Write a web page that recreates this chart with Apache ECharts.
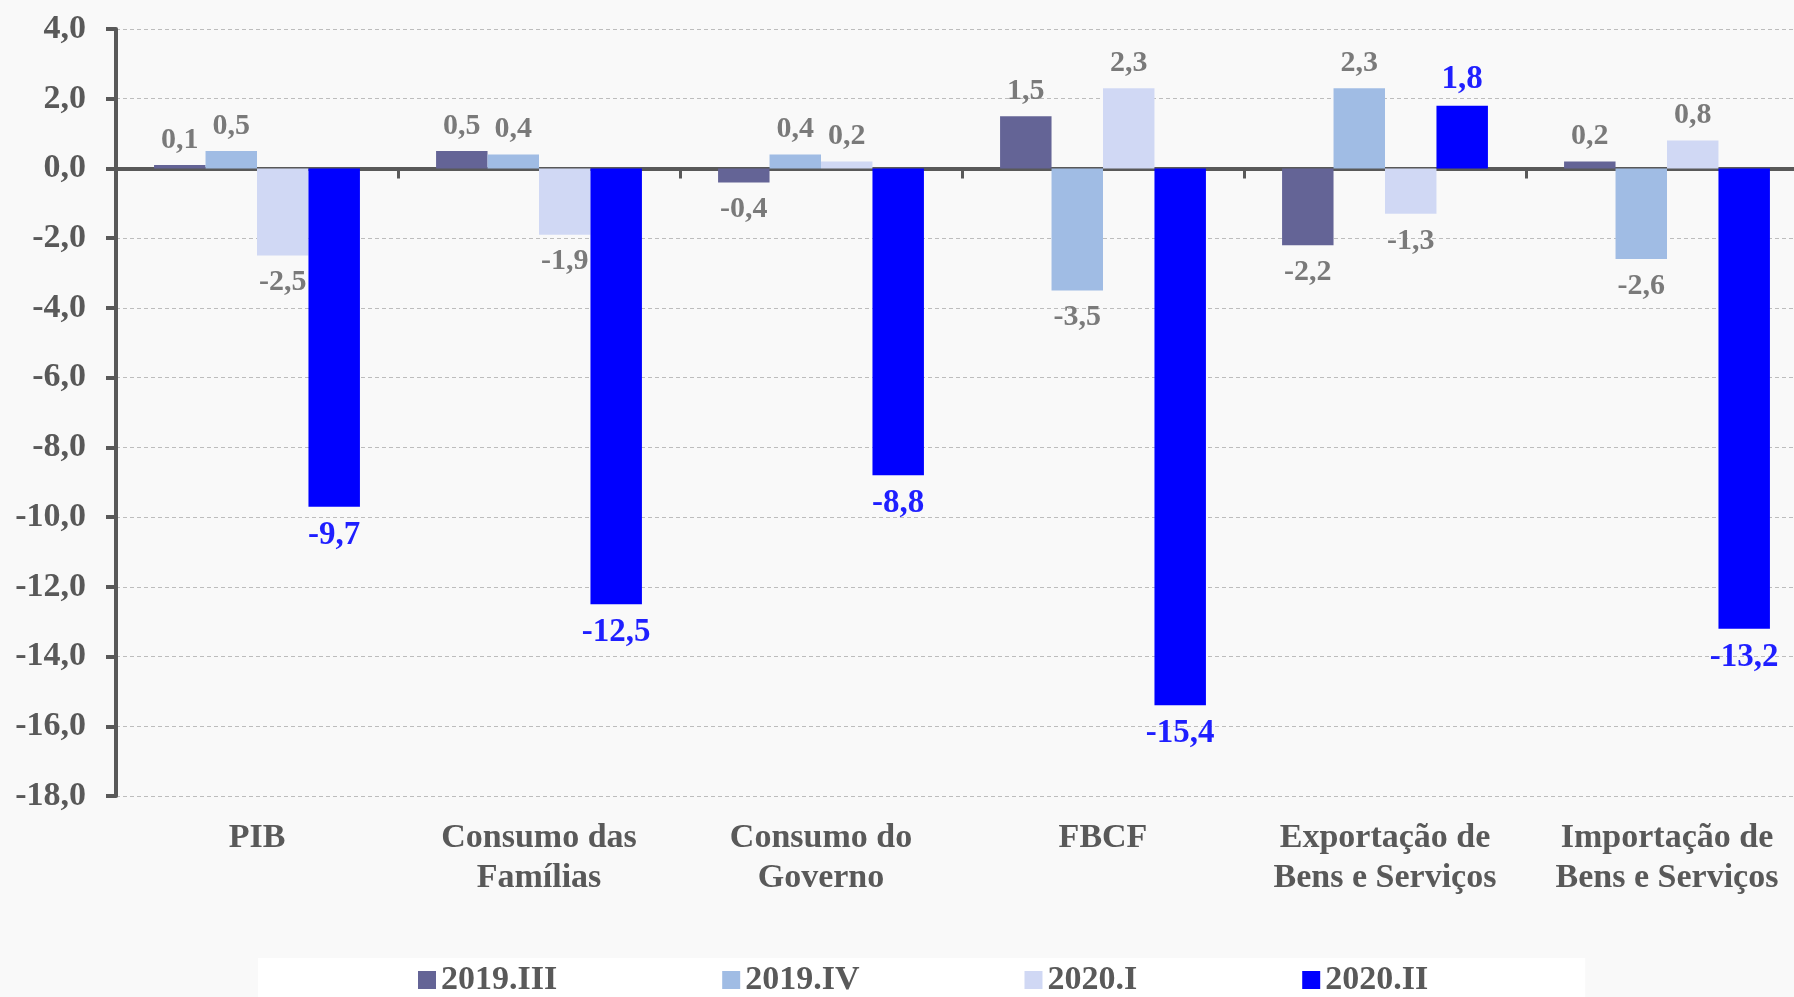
<!DOCTYPE html>
<html>
<head>
<meta charset="utf-8">
<script src="https://cdn.jsdelivr.net/npm/echarts@6/dist/echarts.min.js"></script>
<style>
  html, body { margin: 0; padding: 0; background: #f9f9f9; overflow: hidden; }
  /* o gráfico original é cortado à direita: o canvas passa um pouco da janela */
  #chart { width: 1808px; height: 997px; }
</style>
</head>
<body>
<div id="chart"></div>
<script>
// categorias e séries (variação % sobre o trimestre anterior)
const categories = ['PIB', 'Consumo das\nFamílias', 'Consumo do\nGoverno', 'FBCF',
  'Exportação de\nBens e Serviços', 'Importação de\nBens e Serviços'];
const seriesNames = ['2019.III', '2019.IV', '2020.I', '2020.II'];
const v2019III = [0.1, 0.5, -0.4, 1.5, -2.2, 0.2];
const v2019IV = [0.5, 0.4, 0.4, -3.5, 2.3, -2.6];
const v2020I = [-2.5, -1.9, 0.2, 2.3, -1.3, 0.8];
const v2020II = [-9.7, -12.5, -8.8, -15.4, 1.8, -13.2];
const yTicks = { min: -18, max: 4, interval: 2 };

const FONT = "'Liberation Serif', 'Times New Roman', serif";
const AXIS_GRAY = '#595959';
const colors = ['#646496', '#a0bce4', '#d0d8f4', '#0000ff'];
const labelColors = ['#7a7a7a', '#7a7a7a', '#7a7a7a', '#1f1fff'];
const labelSizes = [30, 30, 30, 33];

const fmt = v => v.toFixed(1).replace('.', ',');

function makeSeries(name, values, idx) {
  return {
    name: name,
    type: 'bar',
    xAxisIndex: 0,
    barGap: '0%',
    barCategoryGap: '27%',
    itemStyle: { color: colors[idx] },
    data: values.map(v => ({
      value: v,
      label: {
        position: v >= 0 ? 'top' : 'bottom',
        distance: v >= 0 ? 10 : 12
      }
    })),
    label: {
      show: true,
      formatter: p => fmt(p.value),
      fontFamily: FONT,
      fontWeight: 'bold',
      fontSize: labelSizes[idx],
      color: labelColors[idx]
    }
  };
}

const chart = echarts.init(document.getElementById('chart'), null, { renderer: 'canvas' });

chart.setOption({
  backgroundColor: '#f9f9f9',
  animation: false,
  grid: { left: 116, right: 0, top: 29, bottom: 201, containLabel: false },
  legend: {
    data: seriesNames,
    left: 258,
    top: 958,
    icon: 'rect',
    itemWidth: 18,
    itemHeight: 18,
    itemGap: 165,
    selectedMode: false,
    backgroundColor: '#ffffff',
    padding: [5, 157, 20, 160],
    textStyle: { fontFamily: FONT, fontWeight: 'bold', fontSize: 34, color: AXIS_GRAY }
  },
  xAxis: [
    {
      type: 'category',
      data: categories,
      position: 'bottom',
      axisLine: { show: false, onZero: false },
      axisTick: { show: false },
      axisLabel: {
        interval: 0,
        margin: 22,
        fontFamily: FONT,
        fontWeight: 'bold',
        fontSize: 34,
        lineHeight: 40,
        color: AXIS_GRAY
      }
    },
    {
      // linha do zero com marcas entre as categorias
      type: 'category',
      data: categories,
      position: 'top',
      axisLine: { show: true, onZero: true, lineStyle: { color: AXIS_GRAY, width: 4 } },
      axisTick: { show: true, inside: true, length: 10, lineStyle: { color: AXIS_GRAY, width: 3 } },
      axisLabel: { show: false },
      splitLine: { show: false }
    }
  ],
  yAxis: {
    type: 'value',
    min: yTicks.min,
    max: yTicks.max,
    interval: yTicks.interval,
    axisLine: { show: true, lineStyle: { color: AXIS_GRAY, width: 4 } },
    axisTick: { show: true, length: 10, lineStyle: { color: AXIS_GRAY, width: 4 } },
    axisLabel: {
      margin: 30,
      formatter: v => fmt(v),
      fontFamily: FONT,
      fontWeight: 'bold',
      fontSize: 34,
      color: AXIS_GRAY
    },
    splitLine: { show: true, lineStyle: { color: '#bdbdbd', width: 1, type: [4, 3] } }
  },
  series: [
    makeSeries(seriesNames[0], v2019III, 0),
    makeSeries(seriesNames[1], v2019IV, 1),
    makeSeries(seriesNames[2], v2020I, 2),
    makeSeries(seriesNames[3], v2020II, 3)
  ]
});
</script>
</body>
</html>
